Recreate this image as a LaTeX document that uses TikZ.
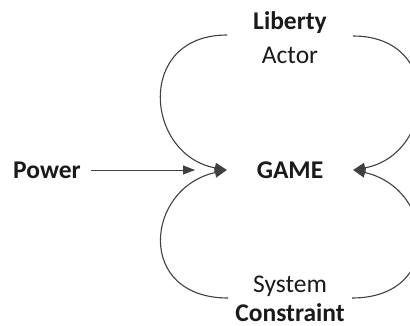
\documentclass[tikz,border=0pt]{standalone}
\usepackage{fontspec}
\setmainfont{Carlito}
\usetikzlibrary{arrows.meta}
\definecolor{ink}{HTML}{1A1A1A}
\definecolor{wire}{HTML}{404040}
\tikzset{
  lbl/.style={inner sep=0pt, text=ink, font=\fontsize{25.5}{30}\selectfont},
  bold/.style={lbl, font=\fontsize{25.5}{30}\selectfont\bfseries},
  loop/.style={draw=wire, line width=1.1pt, -{Triangle[length=12pt,width=10pt]}},
  feed/.style={draw=wire, line width=0.8pt, -{Triangle[length=12pt,width=9pt]}},
}
\begin{document}
\begin{tikzpicture}[x=1pt,y=-1pt]
  \useasboundingbox (0,0) rectangle (410,325);
  \clip (0,0) rectangle (410,325);

  % labels
  \node[bold, anchor=base] (liberty) at (290,29) {Liberty};
  \node[lbl, anchor=base] (actor) at (290,63) {Actor};
  \node[bold, minimum width=126pt] (game) at (290,170) {GAME};
  \node[bold, anchor=west] (power) at (13,170) {Power};
  \node[lbl, anchor=base] (system) at (290,292) {System};
  \node[bold, anchor=base] (constraint) at (290,321.5) {Constraint};

  % loose ends of the loops beside the two label pairs
  \coordinate (tl) at (227,35);
  \coordinate (tr) at (353,36);
  \coordinate (bl) at (228,298);
  \coordinate (br) at (352,298);
  \coordinate (pin) at (195,170);

  % power feeding into the game
  \draw[feed] ([xshift=10pt]power.east) -- (pin);

  % actor loops
  \draw[loop] (tl) .. controls (135,35) and (145,155) .. (game.west);
  \draw[loop] (tr) .. controls (445,36) and (435,155) .. (game.east);
  % system loops
  \draw[loop] (bl) .. controls (135,298) and (145,188) .. (game.west);
  \draw[loop] (br) .. controls (445,298) and (435,188) .. (game.east);
\end{tikzpicture}
\end{document}
